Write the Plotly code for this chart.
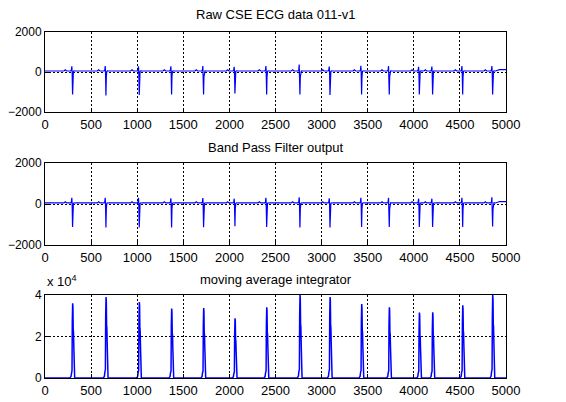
#%% Data ---------------------------------------------------------------------------------------------

import plotly.graph_objects as go
from plotly.subplots import make_subplots

# R-peak sample positions, shared by the three panels
beats = [300, 662, 1023, 1374, 1721, 2061, 2405, 2766, 3092, 3435, 3735, 4061, 4205, 4531, 4856]

# Raw ECG: small upward R wave, then the deep S spike
raw_up = [290, 300, 280, 290, 300, 260, 300, 370, 270, 310, 300, 260, 270, 300, 300]
raw_down = [-1120, -1170, -1150, -1120, -1120, -1080, -1120, -1120, -1150, -1120, -1120, -1120, -1120, -1120, -1120]

# Band pass output
bpf_up = [300, 300, 300, 280, 290, 260, 300, 330, 280, 300, 300, 260, 260, 300, 330]
bpf_down = [-1120, -1150, -1150, -1150, -1130, -1080, -1120, -1150, -1150, -1120, -1120, -1120, -1120, -1120, -1100]

# Moving average integrator peak heights
mwi_peak = [36000, 39000, 36600, 33500, 33700, 28800, 34100, 40000, 39000, 35600, 34100, 31500, 31700, 35000, 40000]

# Beat shapes: sample offsets around each beat and relative values
ecg_off = [-95, -80, -65, -22, -14, -9, -6, -1, 3, 8, 14, 30]
ecg_val = [50, 110, 50, 50, 90, 1.0, 40, -1.0, -250, 30, 60, 50]   # 1.0 / -1.0 -> up / down amplitude
mwi_off = [-30, -18, -12, -7, -4, 0, 3, 6, 9, 12, 16, 22]
mwi_val = [0, 0.02, 0.08, 0.1, 0.75, 1.0, 0.95, 0.65, 0.62, 0.45, 0.05, 0]

ecg_baseline = 50
tail_x = [4930, 5000]
tail_y = [120, 120]


def build_ecg(up, down):
    xs, ys = [0], [ecg_baseline]
    for p, u, d in zip(beats, up, down):
        for o, v in zip(ecg_off, ecg_val):
            xs.append(p + o)
            ys.append(u if v == 1.0 else d if v == -1.0 else v)
    return xs + tail_x, ys + tail_y


def build_mwi():
    xs, ys = [0], [0]
    for p, h in zip(beats, mwi_peak):
        for o, v in zip(mwi_off, mwi_val):
            xs.append(p + o)
            ys.append(h * v)
    return xs + [5000], ys + [0]


raw_x, raw_y = build_ecg(raw_up, raw_down)
bpf_x, bpf_y = build_ecg(bpf_up, bpf_down)
mwi_x, mwi_y = build_mwi()

#%% Figure -------------------------------------------------------------------------------------------

fig = make_subplots(rows=3, cols=1)

line = dict(color='#0000ff', width=1.2)
fig.add_trace(go.Scatter(x=raw_x, y=raw_y, mode='lines', line=line), row=1, col=1)
fig.add_trace(go.Scatter(x=bpf_x, y=bpf_y, mode='lines', line=line), row=2, col=1)
fig.add_trace(go.Scatter(x=mwi_x, y=mwi_y, mode='lines', line=dict(color='#0000ff', width=1.5)), row=3, col=1)

# page body adds an 8px margin, so the figure is 8px smaller and everything is placed 8px up/left
W, H = 558.0, 394.0
domains = [(24, 104), (155, 237), (287, 370)]
title_y = [6, 139, 271]
titles = ['Raw CSE ECG data 011-v1', 'Band Pass Filter output', 'moving average integrator']

axis_style = dict(showline=True, mirror=True, linecolor='black', linewidth=1,
                  showgrid=True, gridcolor='black', griddash='2px,2px', gridwidth=1,
                  zeroline=False, ticks='inside', ticklen=4, tickcolor='black',
                  tickfont=dict(size=13, color='black'), automargin=False)

for i, (top, bottom) in enumerate(domains):
    r = i + 1
    fig.update_yaxes(domain=[1 - bottom / H, 1 - top / H], row=r, col=1, **axis_style)
    fig.update_xaxes(range=[0, 5000], tickvals=list(range(0, 5001, 500)), row=r, col=1, **axis_style)
    fig.add_annotation(text=titles[i], xref='paper', yref='paper', x=0.5, y=1 - title_y[i] / H,
                       xanchor='center', yanchor='middle', showarrow=False, borderpad=0,
                       font=dict(size=13, color='black'))

fig.update_yaxes(range=[-2000, 2000], tickvals=[-2000, 0, 2000], row=1, col=1)
fig.update_yaxes(range=[-2000, 2000], tickvals=[-2000, 0, 2000], row=2, col=1)
fig.update_yaxes(range=[0, 40000], tickvals=[0, 20000, 40000], ticktext=['0', '2', '4'], row=3, col=1)
fig.update_yaxes(tickfont=dict(size=12, color='black'))

fig.add_annotation(text='x 10<sup>4</sup>', xref='paper', yref='paper', x=0.0, y=1 - 283 / H,
                   xanchor='left', yanchor='bottom', showarrow=False,
                   font=dict(size=13, color='black'))

fig.update_layout(width=W, height=H, showlegend=False,
                  margin=dict(l=37, r=60, t=0, b=0, pad=0, autoexpand=False),
                  paper_bgcolor='white', plot_bgcolor='white',
                  font=dict(family='Liberation Sans, Arial, sans-serif', size=13, color='black'))

fig.write_html("out.html")
